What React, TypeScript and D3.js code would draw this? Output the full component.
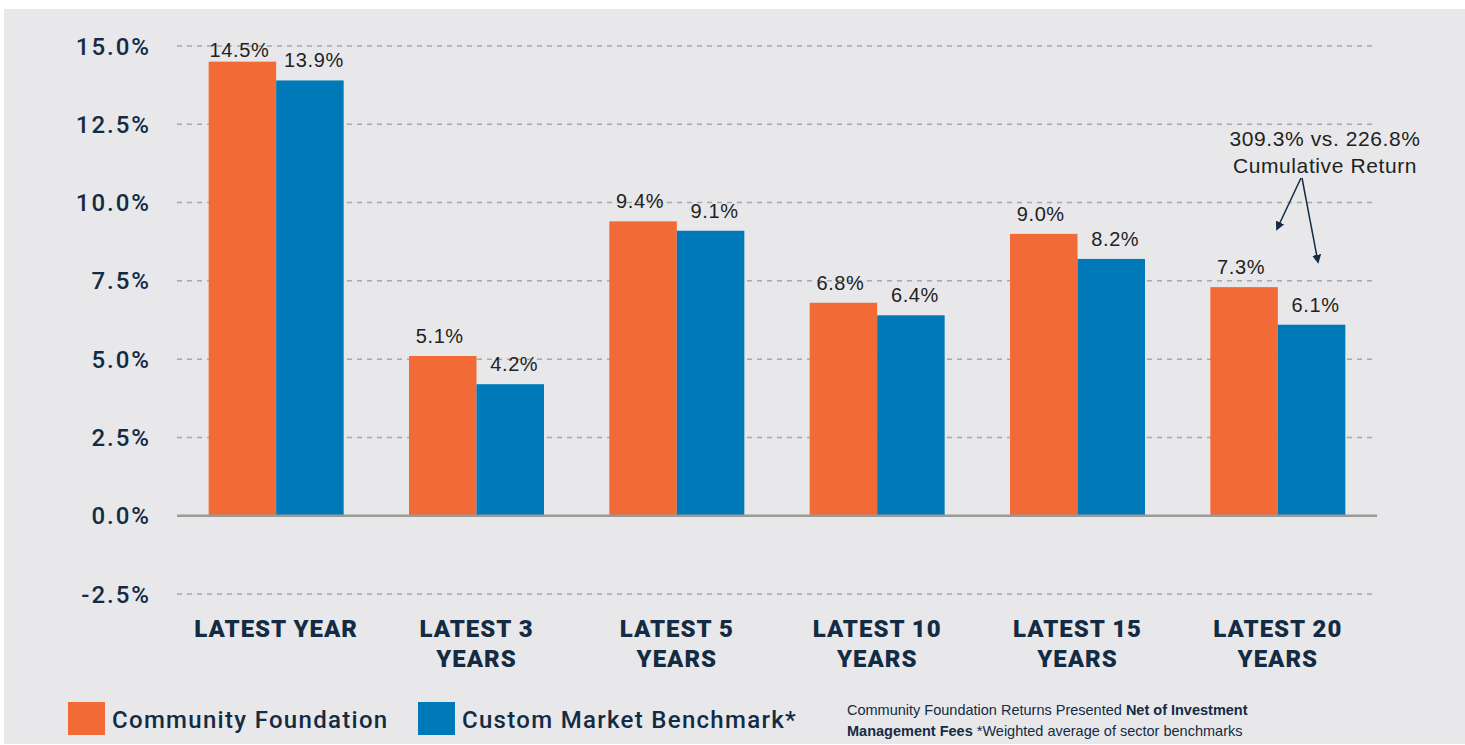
import * as d3 from "d3";

const categories = [
  ["LATEST YEAR"],
  ["LATEST 3", "YEARS"],
  ["LATEST 5", "YEARS"],
  ["LATEST 10", "YEARS"],
  ["LATEST 15", "YEARS"],
  ["LATEST 20", "YEARS"],
];
const foundation = [14.5, 5.1, 9.4, 6.8, 9.0, 7.3];
const benchmark = [13.9, 4.2, 9.1, 6.4, 8.2, 6.1];
const yTicks = [-2.5, 0, 2.5, 5, 7.5, 10, 12.5, 15];
const seriesNames = ["Community Foundation", "Custom Market Benchmark*"];
const colors = ["#f26a36", "#0079b8"];

const W = 1465;
const H = 745;
const navy = "#142b44";

const App = () => {
  const x = d3
    .scaleBand()
    .domain(categories.map((c) => c.join(" ")))
    .range([176, 1378]);
  const inner = d3.scaleBand().domain(["a", "b"]).range([0, 135]);
  const y = d3.scaleLinear().domain([-2.5, 15]).range([594, 46]);

  const groups = categories.map((c, i) => ({
    key: c.join(" "),
    lines: c,
    vals: [foundation[i], benchmark[i]],
  }));

  return (
    <svg
      width={W}
      height={H}
      style={{ position: "absolute", left: 0, top: 0 }}
    >
      <rect x={0} y={0} width={W} height={H} fill="#fff" />
      <rect x={4} y={9} width={W - 4} height={735} fill="#e8e8eb" />

      {/* grid */}
      {yTicks
        .filter((t) => t !== 0)
        .map((t) => (
          <line
            key={t}
            x1={177}
            x2={1377}
            y1={y(t)}
            y2={y(t)}
            stroke="#a8a8a8"
            strokeWidth={1.5}
            strokeDasharray="5,5"
          />
        ))}
      {yTicks.map((t) => (
        <text
          key={"l" + t}
          x={151}
          y={y(t) + 8.5}
          textAnchor="end"
          fontFamily="Roboto"
          fontWeight={500}
          fontSize={24}
          letterSpacing={2}
          fill={navy}
        >
          {t.toFixed(1) + "%"}
        </text>
      ))}

      {/* bars */}
      {groups.map((g) => {
        const gx = (x(g.key) || 0) + (x.bandwidth() - 135) / 2;
        return (
          <g key={g.key} transform={`translate(${gx},0)`}>
            {g.vals.map((v, j) => {
              const bx = inner(j === 0 ? "a" : "b") || 0;
              const ty = Math.max(y(v) - 13, 57);
              return (
                <g key={j}>
                  <rect
                    x={bx}
                    y={y(v)}
                    width={inner.bandwidth()}
                    height={y(0) - y(v)}
                    fill={colors[j]}
                  />
                  <text
                    x={bx + inner.bandwidth() / 2 + (j === 0 ? -3 : 4)}
                    y={ty}
                    textAnchor="middle"
                    fontFamily="Liberation Sans"
                    fontSize={20}
                    letterSpacing={0.6}
                    fill="#222"
                  >
                    {v.toFixed(1) + "%"}
                  </text>
                </g>
              );
            })}
          </g>
        );
      })}

      <line x1={177} x2={1377} y1={y(0)} y2={y(0)} stroke="#9a9a9a" strokeWidth={2.5} />

      {/* category labels */}
      {groups.map((g) => (
        <text
          key={"c" + g.key}
          textAnchor="middle"
          fontFamily="Roboto"
          fontWeight={900}
          fontSize={24}
          letterSpacing={1}
          fill={navy}
        >
          {g.lines.map((l, k) => (
            <tspan key={k} x={(x(g.key) || 0) + x.bandwidth() / 2} y={637 + k * 30}>
              {l}
            </tspan>
          ))}
        </text>
      ))}

      {/* annotation */}
      <text
        textAnchor="middle"
        fontFamily="Liberation Sans"
        fontSize={21}
        letterSpacing={0.6}
        fill="#222"
      >
        <tspan x={1325} y={146}>309.3% vs. 226.8%</tspan>
        <tspan x={1325} y={173}>Cumulative Return</tspan>
      </text>
      <defs>
        <marker id="arr" viewBox="0 0 10 10" refX={8} refY={5} markerWidth={6} markerHeight={6} orient="auto">
          <path d="M0,0L10,5L0,10z" fill={navy} />
        </marker>
      </defs>
      <line x1={1301} y1={178} x2={1277} y2={229} stroke={navy} strokeWidth={1.5} markerEnd="url(#arr)" />
      <line x1={1302} y1={178} x2={1318} y2={262} stroke={navy} strokeWidth={1.5} markerEnd="url(#arr)" />

      {/* legend */}
      {seriesNames.map((s, i) => {
        const lx = i === 0 ? 68 : 418;
        return (
          <g key={s}>
            <rect x={lx} y={702} width={37} height={33} fill={colors[i]} />
            <text
              x={lx + 44}
              y={728}
              fontFamily="Roboto"
              fontWeight={500}
              fontSize={24}
              letterSpacing={1.3}
              fill={navy}
            >
              {s}
            </text>
          </g>
        );
      })}

      <text fontFamily="Liberation Sans" fontSize={14.5} fill={navy}>
        <tspan x={847} y={715}>
          Community Foundation Returns Presented{" "}
          <tspan fontWeight="bold">Net of Investment</tspan>
        </tspan>
        <tspan x={847} y={736}>
          <tspan fontWeight="bold">Management Fees</tspan> *Weighted average of sector benchmarks
        </tspan>
      </text>
    </svg>
  );
};

export default App;
